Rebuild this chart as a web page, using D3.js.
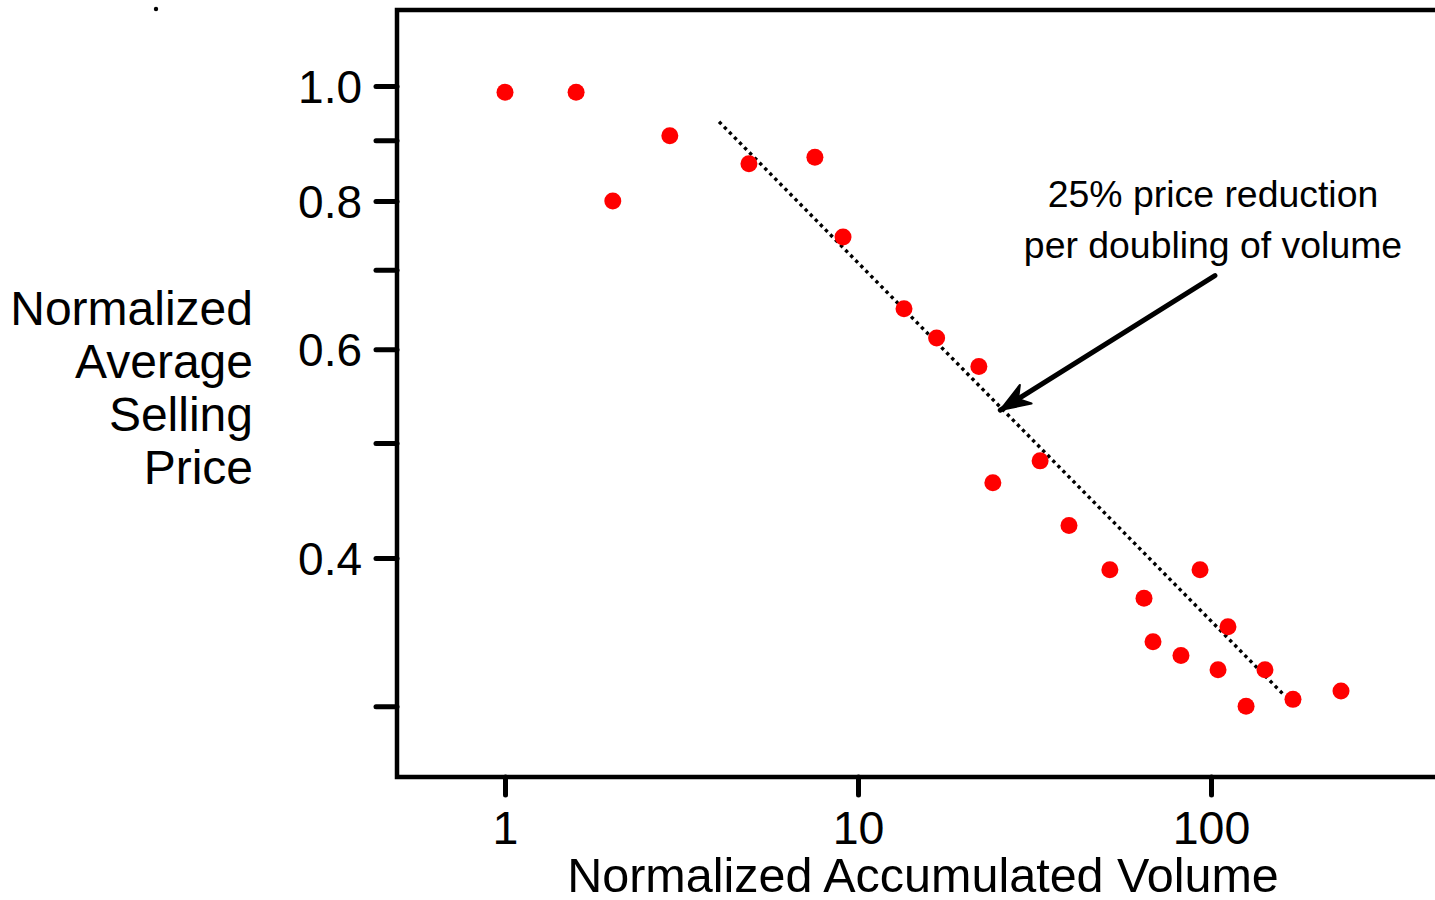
<!DOCTYPE html>
<html>
<head>
<meta charset="utf-8">
<script src="https://cdn.jsdelivr.net/npm/d3@7"></script>
<style>
  body { margin: 0; background: #fff; }
  svg { display: block; font-family: "Liberation Sans", Arial, sans-serif; }
</style>
</head>
<body>
<div id="chart"></div>
<script>
// values
const volume = [1, 1.59, 2.02, 2.93, 4.91, 7.55, 9.07, 13.5, 16.7, 22.0, 24.1, 32.8, 39.6,
                51.7, 64.6, 68.5, 82.2, 93.1, 104.7, 111.7, 125.7, 142.2, 170.7, 233.5];
const price  = [0.988, 0.988, 0.80, 0.908, 0.860, 0.871, 0.746, 0.649, 0.613, 0.580, 0.463, 0.483, 0.426,
                0.391, 0.370, 0.340, 0.331, 0.391, 0.322, 0.350, 0.300, 0.322, 0.304, 0.309];
const fitLine = [[4.04, 0.933], [162, 0.306]];
const arrowFrom = [102.6, 0.692];
const arrowTo = [25.3, 0.533];
const xTicks = [1, 10, 100];
const yTicks = [0.3, 0.4, 0.5, 0.6, 0.7, 0.8, 0.9, 1.0];
const yLabelled = [0.4, 0.6, 0.8, 1.0];
const yTitle = ["Normalized", "Average", "Selling", "Price"];
const xTitle = "Normalized Accumulated Volume";
const note = ["25% price reduction", "per doubling of volume"];

const W = 1435, H = 900;
const svg = d3.select("#chart").append("svg").attr("width", W).attr("height", H);

const x = d3.scaleLog().domain([1, 100]).range([505, 1211]);
const y = d3.scaleLog().domain([1.0, 0.4]).range([86, 558]);
const frame = {left: 397, top: 10, right: 1445, bottom: 777};

// stray mark top-left
svg.append("circle").attr("cx", 156).attr("cy", 9).attr("r", 2.2).attr("fill", "#000");

// frame
svg.append("path")
  .attr("d", `M${frame.right},${frame.top}H${frame.left}V${frame.bottom}H${frame.right}`)
  .attr("fill", "none").attr("stroke", "#000").attr("stroke-width", 4.5);

// y axis
const yAxis = svg.append("g").attr("transform", `translate(${frame.left},0)`)
  .call(d3.axisLeft(y).tickValues(yTicks).tickSize(21).tickPadding(14)
    .tickFormat(d => yLabelled.some(v => Math.abs(v - d) < 1e-9) ? d3.format(".1f")(d) : ""));
yAxis.select(".domain").remove();
yAxis.selectAll(".tick line").attr("stroke", "#000").attr("stroke-width", 5).attr("stroke-linecap", "round");
yAxis.selectAll(".tick text").attr("fill", "#000").style("font-size", "46px").attr("dy", "0.36em");

// x axis
const xAxis = svg.append("g").attr("transform", `translate(0,${frame.bottom})`)
  .call(d3.axisBottom(x).tickValues(xTicks).tickSize(18).tickPadding(16).tickFormat(d3.format("d")));
xAxis.select(".domain").remove();
xAxis.selectAll(".tick line").attr("stroke", "#000").attr("stroke-width", 5).attr("stroke-linecap", "round");
xAxis.selectAll(".tick text").attr("fill", "#000").style("font-size", "46.5px").attr("dy", "0.71em");

// titles
svg.append("text").attr("x", 923).attr("y", 892).attr("text-anchor", "middle")
  .style("font-size", "48.5px").text(xTitle);
svg.append("g").selectAll("text").data(yTitle).join("text")
  .attr("x", 253).attr("y", (d, i) => 325 + i * 53).attr("text-anchor", "end")
  .style("font-size", "48px").text(d => d);

// fitted trend (dotted)
svg.append("line")
  .attr("x1", x(fitLine[0][0])).attr("y1", y(fitLine[0][1]))
  .attr("x2", x(fitLine[1][0])).attr("y2", y(fitLine[1][1]))
  .attr("stroke", "#000").attr("stroke-width", 3.4).attr("stroke-dasharray", "3.4 3.8");

// points
svg.append("g").selectAll("circle").data(volume.map((v, i) => [v, price[i]])).join("circle")
  .attr("cx", d => x(d[0])).attr("cy", d => y(d[1])).attr("r", 8.5).attr("fill", "#ff0000");

// annotation arrow
svg.append("line")
  .attr("x1", x(arrowFrom[0])).attr("y1", y(arrowFrom[1]))
  .attr("x2", x(arrowTo[0])).attr("y2", y(arrowTo[1]))
  .attr("stroke", "#000").attr("stroke-width", 5).attr("stroke-linecap", "round");
const ax = x(arrowTo[0]), ay = y(arrowTo[1]);
const ang = Math.atan2(y(arrowFrom[1]) - ay, x(arrowFrom[0]) - ax);
const hl = 30, hw = 11;
const bx = ax + hl * Math.cos(ang), by = ay + hl * Math.sin(ang);
const nx = -Math.sin(ang), ny = Math.cos(ang);
svg.append("path")
  .attr("d", `M${ax},${ay}L${bx + nx * hw},${by + ny * hw}L${ax + 0.7 * hl * Math.cos(ang)},${ay + 0.7 * hl * Math.sin(ang)}L${bx - nx * hw},${by - ny * hw}Z`)
  .attr("fill", "#000").attr("stroke", "#000").attr("stroke-width", 2).attr("stroke-linejoin", "round");
svg.append("g").selectAll("text").data(note).join("text")
  .attr("x", 1213).attr("y", (d, i) => 207 + i * 51).attr("text-anchor", "middle")
  .style("font-size", "37.4px").text(d => d);
</script>
</body>
</html>
